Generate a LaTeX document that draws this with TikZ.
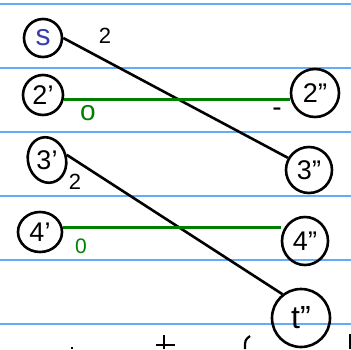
\documentclass[tikz,border=0pt]{standalone}
\usepackage{fontspec}
\setmainfont{Liberation Sans}
\usetikzlibrary{shapes.geometric}
\definecolor{rule}{RGB}{100,172,250}
\definecolor{ink}{RGB}{0,0,0}
\definecolor{grn}{RGB}{0,128,0}
\definecolor{sblue}{RGB}{60,60,180}
\tikzset{
  vtx/.style={draw=ink, line width=2.6pt, circle, inner sep=0pt, font=\fontsize{27}{27}\selectfont},
  vtxe/.style={draw=ink, line width=2.6pt, ellipse, inner sep=0pt, font=\fontsize{27}{27}\selectfont},
  blk/.style={draw=ink, line width=2.6pt},
  gline/.style={draw=grn, line width=3pt},
  ruleline/.style={draw=rule, line width=1.4pt},
  wlab/.style={font=\fontsize{22}{22}\selectfont},
}
\begin{document}
\begin{tikzpicture}[x=1pt,y=-1pt]
\useasboundingbox (0,0) rectangle (351,349);
\fill[white] (0,0) rectangle (351,349);
% ruled lines
\foreach \yy in {4,68,132,196,260,324} \draw[ruleline] (0,\yy) -- (351,\yy);
% left nodes
\node[vtx, minimum size=38pt, text=sblue, font=\fontsize{30}{30}\selectfont] (s) at (43,38) {s};
\node[vtx, minimum size=40pt] (p2) at (43,95) {2'};
\node[vtxe, minimum width=38pt, minimum height=46pt, rotate=15] (p3) at (47,160) {\rotatebox{-15}{3'}};
\node[vtxe, minimum width=44pt, minimum height=40pt] (p4) at (40,232) {4'};
% right nodes
\node[vtx, minimum size=48pt] (pp2) at (315,93) {2"};
\node[vtx, minimum size=46pt] (pp3) at (309,170) {3"};
\node[vtxe, minimum width=46pt, minimum height=48pt] (pp4) at (305,241) {4"};
\node[vtx, minimum size=58pt, font=\fontsize{32}{32}\selectfont] (t) at (301,318) {t"};
% edges
\draw[blk] (s.east) -- (pp3.150);
\draw[blk] (p3.east) -- (t.128);
\draw[gline] (p2.-12) -- (p2.-12 -| pp2.west) coordinate (g2end);
\draw[gline] (p4.12) -- (p4.12 -| pp4.west) coordinate (g4end);
% labels
\node[wlab] (l1) at (105,36) {2};
\node[wlab] (l2) at (75,182) {2};
\node[wlab, text=grn, font=\fontsize{28}{28}\selectfont] (l3) at (88,113) {o};
\node[wlab, text=grn, font=\fontsize{21}{21}\selectfont] (l4) at (81,246) {0};
\node[wlab, font=\fontsize{28}{28}\selectfont] (l5) at (277,112) {-};
% cut-off marks at bottom
\draw[blk, line width=2.2pt] (72,347) -- (72,349);
\draw[blk, line width=2.2pt] (164,335) -- (164,349);
\draw[blk, line width=2.2pt] (156,345) -- (175,345);
\draw[blk, line width=2.2pt] (250,336) .. controls (245,340) .. (245,349);
\draw[blk, line width=2.2pt] (350,334) -- (350,349);
\end{tikzpicture}
\end{document}
